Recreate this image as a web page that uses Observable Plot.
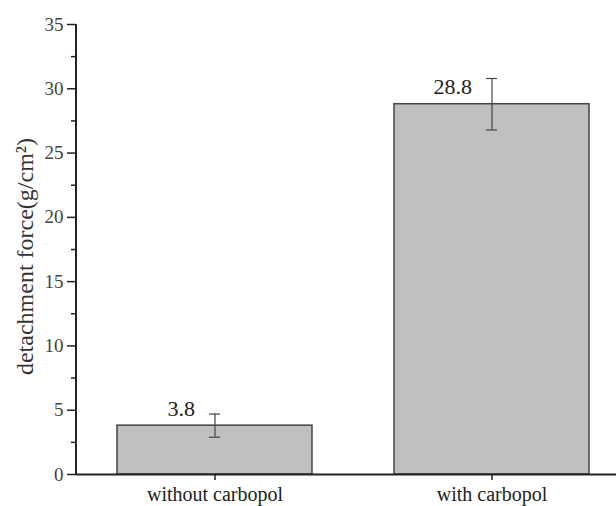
<!DOCTYPE html>
<html><head><meta charset="utf-8">
<script src="https://cdn.jsdelivr.net/npm/d3@7"></script>
<script src="https://cdn.jsdelivr.net/npm/@observablehq/plot@0.6"></script>
<style>body{margin:0;background:#fff} svg text{font-family:'Liberation Serif','Times New Roman',serif}</style>
</head><body><div id="chart"></div>
<script>
const categories = ["without carbopol", "with carbopol"];
const values = [3.8, 28.8];
const errors = [0.9, 2.0];
const valueLabels = ["3.8", "28.8"];
const yTicks = [0, 5, 10, 15, 20, 25, 30, 35];
const yMinorTicks = [2.5, 7.5, 12.5, 17.5, 22.5, 27.5, 32.5];
const yLabel = "detachment force(g/cm²)";

const data = categories.map((c, i) => ({
  c, v: values[i], lo: values[i] - errors[i], hi: values[i] + errors[i], label: valueLabels[i]
}));
const font = "Liberation Serif";

const chart = Plot.plot({
  width: 616, height: 506,
  marginLeft: 76, marginRight: 0, marginTop: 24, marginBottom: 32,
  style: {fontFamily: font, background: "#fff", color: "#333"},
  x: {domain: categories, range: [76, 630], paddingInner: 0.296, paddingOuter: 0.148, axis: null},
  y: {domain: [0, 35], axis: null},
  marks: [
    Plot.barY(data, {x: "c", y: "v", fill: "#c0c0c0", stroke: "#444", strokeWidth: 1.5}),
    Plot.ruleX(data, {x: "c", y1: "lo", y2: "hi", stroke: "#444", strokeWidth: 1.2}),
    Plot.tickY(data, {x: "c", y: "lo", insetLeft: 92, insetRight: 92, stroke: "#444", strokeWidth: 1.2}),
    Plot.tickY(data, {x: "c", y: "hi", insetLeft: 92, insetRight: 92, stroke: "#444", strokeWidth: 1.2}),
    Plot.text(data, {x: "c", y: "v", text: "label", textAnchor: "end", lineAnchor: "bottom", dx: -20, dy: -10, fontSize: 22, fontFamily: font, fill: "#222"}),
    Plot.ruleY([0], {stroke: "#222", strokeWidth: 2}),
    Plot.axisY(yTicks, {tickSize: 9, tickPadding: 4, fontSize: 19, fontFamily: font, stroke: "#222", strokeWidth: 1.5, fill: "#444", label: null}),
    Plot.axisY(yMinorTicks, {tickSize: 5, tickFormat: () => "", stroke: "#222", strokeWidth: 1.5, label: null}),
    Plot.axisX({tickSize: 6, tickPadding: 6, fontSize: 20, fontFamily: font, stroke: "#222", strokeWidth: 1.5, fill: "#222", label: null}),
    Plot.text([yLabel], {frameAnchor: "left", textAnchor: "middle", rotate: -90, dx: -51, dy: 7, fontSize: 24, fontFamily: font, fill: "#333"})
  ]
});

const ys = chart.scale("y");
d3.select(chart).append("line")
  .attr("x1", 76).attr("x2", 76)
  .attr("y1", ys.apply(0) + 1).attr("y2", ys.apply(35))
  .attr("stroke", "#222").attr("stroke-width", 2);
document.getElementById("chart").appendChild(chart);
</script>
</body></html>
